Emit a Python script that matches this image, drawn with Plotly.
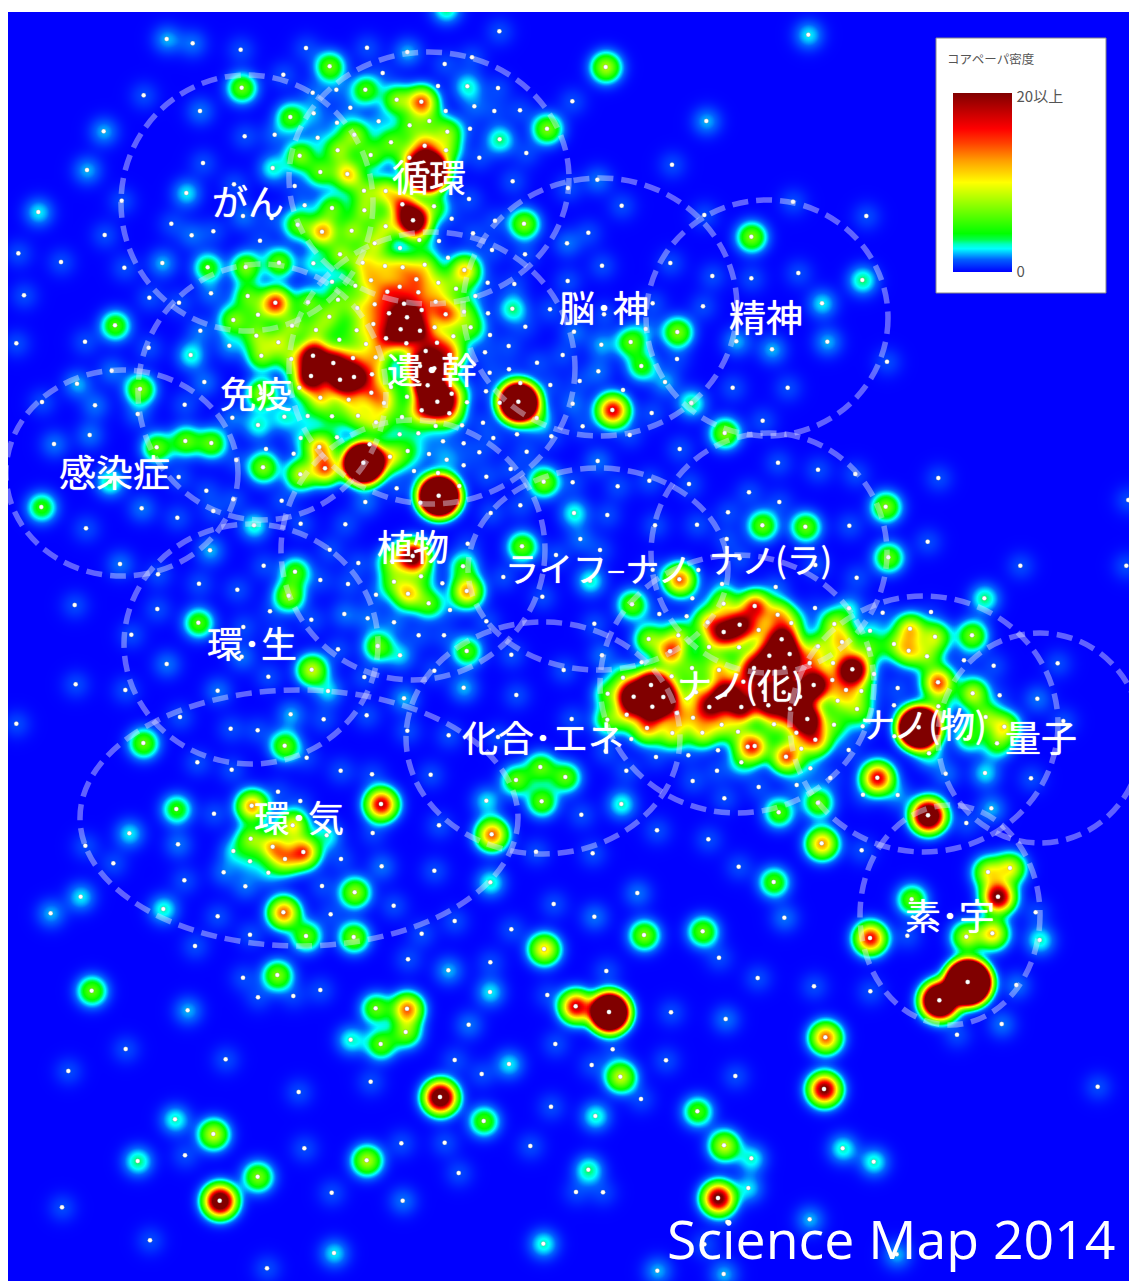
import numpy as np
import plotly.graph_objects as go

# x, y are thirds of a picture pixel from the region's origin.
REGION_ORIGINS = {"nw": (0, 0), "n": (370, 0), "ne": (750, 0), "w": (0, 430), "c": (370, 430), "e": (750, 430),
                  "sw": (0, 851), "s": (370, 851), "se": (750, 851)}

nw_spots = [(500,117,2),(578,130,1.5),(722,149,1),(918,144,1),(1101,143,1),(989,199,5),(725,263,5),(850,224,1),(431,286,1),(938,278,1.5),(1009,269,1.5),(1096,269,4.5),(600,333,1.5),(1051,323,1.5),(941,340,2),(871,351,4.5),(1011,368,2),(1136,364,2),(311,394,2),(734,409,1),(824,404,1.5),(953,413,2),(1063,404,6),(261,510,2),(899,467,5.5),(1013,451,6),(1112,465,5),(609,489,1),(818,504,3),(961,516,5),(1042,522,9),(702,553,1),(884,558,1),(559,579,2.5),(1092,572,6),(115,636,2.5),(365,602,1),(914,616,2),(996,624,5),(1093,631,6),(729,648,1.5),(815,654,1),(514,671,1),(893,674,5),(966,695,10),(1055,692,6),(575,706,1.5),(640,694,1),(314,705,1),(780,722,1),(1124,730,7),(55,760,1),(183,786,1),(1020,763,6),(487,789,2),(373,803,1),(623,802,4),(737,801,5.5),(837,788,5),(940,790,3),(1088,788,8),(72,886,1),(996,845,3),(1066,857,5),(1113,841,9),(448,893,1),(633,880,1.5),(743,888,5),(537,908,1),(826,908,15),(924,907,5),(1014,899,5),(1124,913,10),(1072,924,7),(345,976,4.5),(700,960,5.5),(774,944,5),(988,950,6),(601,992,1.5),(876,977,6),(948,990,6),(1070,991,6),(1120,972,10),(49,1030,1),(255,1025,1),(769,1007,6),(1018,1019,4),(446,1043,1),(688,1037,2),(835,1027,7),(1098,1032,7),(572,1065,3),(784,1067,6),(939,1067,28),(1059,1074,12),(874,1077,7),(1127,1072,9),(1000,1089,27),(335,1112,1.5),(933,1128,28),(1020,1139,30),(1062,1131,30),(1116,1123,11),(613,1146,1.5),(231,1151,2),(420,1167,5.5),(783,1180,6),(898,1163,7),(126,1206,1),(285,1216,1.5),(554,1214,1),(961,1193,9),(1046,1199,9),(1114,1178,12),(413,1242,1.5),(697,1253,1.5),(853,1250,3),(923,1248,3),(996,1249,4),(1074,1247,7),(1128,1267,7),(774,1275,3)]

n_spots = [(228,25,3.5),(388,94,1),(112,156,2),(306,172,1),(224,192,1),(38,219,1),(707,201,6.5),(204,258,1),(292,259,3),(384,264,1),(80,299,6),(154,305,13),(607,304,1),(313,319,1.5),(227,333,1),(373,333,1),(450,331,1),(119,376,5),(178,363,5),(300,386,1),(232,395,6),(531,386,5.5),(389,418,3.5),(1009,363,2),(63,427,5),(164,437,14),(228,451,7),(469,459,1),(118,473,13),(328,473,1),(906,494,1),(172,515,90),(428,544,1),(47,573,8),(682,539,1.5),(594,564,1),(297,597,1),(97,613,17),(192,619,5),(755,617,1),(129,661,32),(245,656,1),(375,662,1),(462,671,5.5),(1003,645,1),(47,679,7),(655,698,1),(309,700,1),(148,720,5),(207,723,1),(591,730,1.5),(90,744,2),(234,773,2),(366,750,1),(465,763,1),(45,798,8),(98,802,9),(164,794,7),(283,810,9),(696,797,1),(901,789,1),(139,838,11),(205,848,7),(353,848,1),(433,852,1),(593,843,1),(89,860,11),(52,875,13),(145,877,11),(258,866,5),(1027,828,1),(316,888,2),(197,905,10),(102,911,20),(427,926,3.5),(540,928,1),(57,940,18),(155,930,15),(227,943,13),(111,952,30),(282,935,6),(354,940,1),(848,910,1),(702,943,1),(999,919,1),(92,988,30),(150,992,22),(194,982,8),(302,982,5),(466,980,1),(612,995,1.5),(922,996,5.5),(827,987,2),(48,1015,18),(250,1009,6),(360,1005,1),(109,1030,14),(201,1028,14),(416,1038,1),(694,1034,2),(782,1026,5),(1099,1024,2),(167,1053,20),(345,1057,1),(578,1065,1),(238,1065,14),(921,1077,1),(501,1088,1),(150,1098,30),(193,1105,30),(417,1108,1),(359,1118,1),(685,1114,1.5),(814,1098,4),(173,1156,40),(63,1161,5),(629,1143,1),(885,1146,2),(541,1155,1),(1088,1163,1),(348,1174,1),(451,1149,10),(111,1190,4),(245,1181,18),(445,1205,90),(389,1208,8),(202,1205,40),(727,1230,17),(759,1170,1),(291,1207,2),(42,1209,9),(608,1211,1.5),(964,1209,3.5),(845,1239,1),(155,1231,18),(238,1240,14),(96,1251,4),(500,1254,6),(339,1268,1),(197,1278,4),(276,1276,1),(638,1279,1)]

ne_spots = [(175,104,2.5),(129,605,1),(349,648,1),(4,710,5.5),(4,835,1),(145,819,1),(337,840,3.5),(216,910,2.5),(232,1025,2),(66,1048,2),(411,1085,1),(113,1163,1),(38,1262,1)]

w_spots = [(162,42,1.5),(269,15,1.5),(470,52,5),(556,33,5),(634,39,5),(709,90,1),(798,57,1.5),(881,71,1.5),(902,24,3),(958,51,10),(1011,22,3),(1109,43,4),(789,112,5.5),(975,115,13),(901,133,7),(1090,98,110),(536,141,1),(330,155,3.5),(619,182,1),(700,208,1),(845,212,1),(124,231,4),(425,235,1.5),(1096,216,1.5),(640,243,1),(532,263,1),(258,295,1),(762,286,3),(902,281,1),(1036,283,1),(630,361,2),(989,359,1),(360,402,1.5),(791,407,1),(1075,399,1),(474,433,1),(885,425,4.5),(597,461,1),(712,479,1),(961,450,1),(1044,462,1),(866,497,6),(1128,494,1.5),(224,525,1),(472,537,1),(810,544,1),(1033,552,1.5),(1103,565,1.5),(595,578,4.5),(730,591,1),(934,569,1),(394,614,1),(833,622,1),(1133,648,5),(1014,658,1),(725,680,1.5),(500,702,1.5),(935,719,7),(805,740,1),(1093,741,1),(227,763,1),(376,780,1),(653,782,1.5),(984,783,2.5),(872,853,2),(1100,856,1),(49,881,1),(540,861,1),(971,868,1),(692,896,1),(773,901,1),(430,939,5),(854,947,5),(920,983,1),(592,997,1),(695,1019,1),(1022,1022,1),(1116,1033,1),(834,1085,1),(901,1113,1),(755,1127,10),(529,1137,4),(642,1151,1),(878,1186,8),(388,1210,2.5),(752,1226,6),(980,1216,3),(1118,1209,1),(256,1247,1),(534,1243,1.5),(818,1250,10),(700,1263,3),(910,1266,14),(1023,1287,1),(855,1287,10)]

c_spots = [(89,13,3),(145,10,3),(219,34,1.5),(281,40,1),(370,24,1),(441,13,1),(544,19,1),(779,15,1),(1064,9,5.5),(60,80,9),(113,63,4),(177,72,1.5),(230,89,2),(328,67,1),(470,65,1),(929,57,1),(683,93,1.5),(132,123,1.5),(281,106,1),(422,117,1),(204,129,3),(349,140,1),(521,155,5.5),(608,157,1),(743,169,1),(838,152,1),(957,162,1),(80,175,1),(268,168,3),(206,197,110),(151,218,6),(1137,187,1),(451,226,1),(362,249,1),(612,249,3),(712,255,1),(1074,247,1),(855,286,1),(981,284,1),(631,327,1.5),(293,341,1),(456,349,5),(690,360,1),(1070,327,1),(128,378,24),(66,394,7),(558,375,1),(1109,385,1),(279,409,4),(400,441,1),(153,439,5),(660,452,3),(848,419,1),(985,420,1),(928,448,12),(72,455,6),(217,460,1),(290,483,10),(114,491,9),(1056,462,2),(176,520,5),(517,500,1),(967,505,1.5),(786,523,5),(1061,521,7),(240,540,1.5),(868,552,1),(950,559,1),(349,574,1),(72,577,1.5),(1013,577,10),(1109,584,24),(673,581,1),(146,616,1),(222,616,1),(836,627,6),(925,616,7),(1061,606,24),(1017,651,6),(1107,652,6),(900,664,13),(290,663,4.5),(90,676,2.5),(424,674,1),(696,676,1.5),(815,697,2),(581,720,1),(193,722,1),(905,739,7),(966,714,5),(1047,720,9),(759,743,6),(1120,755,14),(843,765,40),(281,773,2),(978,787,8),(1065,794,30),(439,795,1),(102,805,2),(791,800,40),(880,801,40),(713,791,5),(847,830,40),(1018,831,22),(1114,831,24),(921,849,12),(770,854,11),(712,869,5),(969,863,9),(605,867,1),(1055,884,8),(831,894,11),(112,902,1),(236,916,1),(907,909,8),(997,908,8),(1104,905,6),(384,921,1),(784,927,2),(707,963,1),(1133,950,12),(858,981,1),(955,976,1),(1044,961,1),(511,1011,5),(1114,997,4),(438,1050,5),(586,1041,5),(769,1022,1),(1041,1022,1),(182,1034,1),(968,1053,1),(515,1114,5),(349,1112,2.5),(1063,1105,1),(754,1122,3),(33,1122,18),(634,1154,1),(207,1186,1),(365,1213,12),(861,1201,1),(1015,1228,1),(498,1265,1),(668,1270,1)]

e_spots = [(84,98,1),(204,119,1),(316,132,1),(565,144,1),(1135,210,1),(407,230,5.5),(88,216,1),(37,286,5),(166,290,5),(298,287,1),(533,335,1),(415,382,5),(811,407,1),(1129,407,1),(196,405,1),(320,443,1),(77,471,1.5),(703,505,3.5),(14,528,16),(195,534,1),(297,535,3),(398,548,1),(543,546,1),(83,554,10),(124,579,8),(253,582,7),(26,600,9),(360,602,3),(480,596,9),(666,616,5.5),(555,620,7),(95,628,30),(276,636,9),(204,649,7),(432,642,6),(476,662,9),(357,657,5),(58,677,30),(119,672,30),(531,679,6),(642,691,1),(179,699,12),(249,699,8),(731,707,1),(923,700,1),(307,718,30),(12,714,24),(103,713,30),(372,732,3),(247,750,10),(564,757,13),(443,774,1),(668,790,7),(749,796,1),(862,806,1.5),(191,765,30),(288,780,10),(334,783,6),(150,800,30),(41,786,26),(101,787,30),(263,812,7),(432,826,1),(55,826,26),(120,836,30),(321,837,6),(565,829,5),(707,861,6),(172,867,30),(940,873,1),(252,884,5),(72,883,7),(338,889,2),(506,892,120),(656,921,4),(763,890,8),(433,919,2),(139,908,11),(196,929,14),(741,940,5),(14,948,13),(154,956,7),(296,960,1),(537,970,4),(108,980,13),(181,1015,2),(587,1031,1.5),(705,1029,2.5),(241,1044,1),(843,1045,1),(382,1043,17),(26,1071,1),(140,1065,1.5),(339,1094,2),(443,1095,2),(204,1118,5),(724,1135,2),(86,1147,4.5),(534,1156,33),(649,1179,1),(215,1240,10),(335,1261,1)]

sw_spots = [(340,37,1),(750,31,3),(805,65,3),(671,64,1.5),(553,88,1),(736,106,1.5),(966,105,1),(1064,124,6),(242,137,2.5),(152,187,2),(490,174,3),(850,184,12),(653,196,1),(992,190,1),(918,255,5),(1061,258,5.5),(750,251,1),(585,285,1),(832,372,5.5),(275,419,5),(729,380,1),(880,435,1),(961,417,1),(774,439,1),(563,478,2),(1127,472,5),(377,594,1),(1052,566,3),(205,660,1),(677,625,1),(1112,692,1),(896,723,1),(525,805,3),(640,849,7),(913,892,1),(555,913,1),(413,930,3.5),(1100,928,6.5),(773,977,5.5),(995,1025,1),(659,1049,27),(186,1069,1),(450,1168,1),(1002,1206,2.5),(801,1252,1)]

s_spots = [(35,46,1.5),(193,59,1),(361,94,3),(1106,47,1),(802,126,1.5),(71,164,1),(551,159,1),(673,197,1.5),(254,210,1),(155,248,1),(424,235,1),(822,252,5.5),(998,241,5),(522,294,8.5),(1047,320,1),(114,325,1),(361,334,1),(235,358,2),(709,360,1),(360,423,2.5),(532,432,1),(617,466,18),(717,483,85),(903,484,1),(1067,504,1.5),(111,473,12),(296,521,1.5),(107,543,6),(32,579,5),(556,579,1),(728,595,1),(888,628,1),(254,627,1),(417,639,2.5),(665,642,1),(335,669,1),(1096,675,1),(751,677,7),(210,738,28),(813,744,1),(543,767,1),(676,795,3),(982,781,4.5),(341,810,4.5),(94,877,1),(224,875,1),(481,885,1),(1062,883,7),(266,966,1),(655,956,3.5),(618,1023,1),(699,1024,1),(1044,1041,22),(1135,1011,2.5),(98,1049,1.5),(1072,1113,1),(1003,1180,1),(520,1178,3),(862,1259,2),(1061,1269,2)]

se_spots = [(780,51,8),(714,63,8),(71,93,4.5),(744,137,22),(485,145,5),(103,200,1.5),(857,184,1),(472,254,1),(360,261,16),(649,257,7),(727,247,9),(869,267,3),(23,381,1),(192,406,1),(361,421,1),(653,393,200),(799,402,1.5),(568,448,60),(755,519,1.5),(621,551,1),(226,559,12),(222,714,21),(1043,707,1),(278,892,3),(371,932,3),(4,922,3),(179,1105,2),(440,1210,2)]

# Field ellipses: label, centre x, centre y, radius x, radius y
field_names = ["がん", "循環", "脳･神", "精神", "遺･幹", "免疫", "感染症", "植物", "ライフ–ナノ", "ナノ(ラ)", "環･生", "ナノ(化)", "ナノ(物)", "量子", "化合･エネ", "環･気", "素･宇"]
field_cx = [247, 429, 600, 767, 432, 262, 122, 413, 598, 769, 251, 737, 924, 1040, 543, 299, 950]
field_cy = [203, 178, 307, 318, 368, 392, 473, 550, 569, 553, 644, 684, 724, 738, 738, 818, 915]
field_rx = [126, 140, 137, 121, 143, 124, 116, 132, 130, 118, 127, 137, 134, 102, 137, 219, 90]
field_ry = [128, 126, 129, 118, 136, 128, 103, 130, 101, 120, 120, 129, 128, 105, 116, 128, 110]
label_x = [248, 429, 604, 766, 432, 256, 114, 413, 598, 770, 252, 740, 923, 1041, 543, 299, 950]
label_y = [200, 176, 306, 316, 368, 392, 471, 545, 567, 558, 642, 683, 722, 736, 736, 816, 914]
label_font_px = [36, 37, 36, 37, 36, 36, 37, 36, 34, 34, 36, 35, 35, 36, 36, 36, 36]

colorbar_ticks = [0, 19.6]
colorbar_labels = ["0", "20以上"]
colorbar_title = "コアペーパ密度"
map_title = "Science Map 2014"

regions = {"nw": nw_spots, "n": n_spots, "ne": ne_spots, "w": w_spots, "c": c_spots, "e": e_spots,
           "sw": sw_spots, "s": s_spots, "se": se_spots}
xs, ys, ds = [], [], []
for key, spots in regions.items():
    ox, oy = REGION_ORIGINS[key]
    for zx, zy, d in spots:
        xs.append(ox + zx / 3)
        ys.append(oy + zy / 3)
        ds.append(d)
xs, ys, ds = np.array(xs), np.array(ys), np.array(ds, dtype=float)

# Mid-range colour readings run low against the spot widths: calibrate them, tapering off towards the reds
calibrated = np.where(ds < 4, ds, np.where(ds <= 10, ds * 1.25, np.where(ds <= 18, 12.5 + (ds - 10) * 0.69, ds)))

# Kernel weights such that the summed Gaussian field reproduces the density read at each dot
SIGMA = 10.0
RIDGE = 0.15
G = np.exp(-((xs[:, None] - xs[None, :]) ** 2 + (ys[:, None] - ys[None, :]) ** 2) / (2 * SIGMA ** 2))
G[np.diag_indices_from(G)] += RIDGE
target = calibrated * (1 + RIDGE)
ws = calibrated.copy()
for _ in range(25):
    for i in range(ws.size):
        ws[i] = max(0.0, ws[i] + (target[i] - G[i] @ ws) / G[i, i])

gx = np.arange(8, 1131, 2.0)
gy = np.arange(12, 1283, 2.0)
z = np.zeros((gy.size, gx.size), dtype=np.float32)
for px, py, w in zip(xs, ys, ws):
    z += (w * np.outer(np.exp(-(gy - py) ** 2 / (2 * SIGMA ** 2)),
                       np.exp(-(gx - px) ** 2 / (2 * SIGMA ** 2)))).astype(np.float32)

colorscale = [[0, "#0000ff"], [0.07, "#0060ff"], [0.13, "#00ffff"], [0.155, "#00ffc0"], [0.18, "#00ff50"],
              [0.215, "#00ff00"], [0.5, "#ffff00"], [0.62, "#ffa000"], [0.72, "#ff4000"], [0.8, "#ff0000"], [1, "#800000"]]

W, H, L, T = 1129, 1281, 8, 12
fig = go.Figure()
fig.add_trace(go.Heatmap(
    x=gx, y=gy, z=z, zmin=0, zmax=20, zsmooth="best", colorscale=colorscale, hoverinfo="skip",
    colorbar=dict(x=(953 - L) / (W - L), xanchor="left", y=(H - 272) / (H - T), yanchor="bottom",
                  thicknessmode="pixels", thickness=59, lenmode="pixels", len=179, xpad=0, ypad=0,
                  outlinewidth=0, tickvals=colorbar_ticks, ticktext=colorbar_labels, ticks="outside",
                  ticklen=2, tickcolor="white",
                  tickfont=dict(family="Noto Sans CJK JP", size=15, color="#555555")),
))
fig.add_trace(go.Scatter(
    x=xs, y=ys, mode="markers", hoverinfo="skip", showlegend=False,
    marker=dict(size=4.5, color="white", line=dict(width=0.5, color="rgba(130,130,130,0.6)")),
))

shapes = []
for cx, cy, rx, ry in zip(field_cx, field_cy, field_rx, field_ry):
    shapes.append(dict(type="circle", xref="x", yref="y", x0=cx - rx, x1=cx + rx, y0=cy - ry, y1=cy + ry,
                       layer="above", opacity=0.42, line=dict(color="#e8e8ff", width=5.5, dash="16px,8px")))
shapes.append(dict(type="rect", xref="x", yref="y", x0=936, x1=1106, y0=38, y1=293, layer="above",
                   fillcolor="white", line=dict(color="#888888", width=1)))

annotations = [dict(x=lx, y=ly, xref="x", yref="y", text=t, showarrow=False,
                    font=dict(family="Noto Sans CJK JP", size=fs, color="white", shadow="0 0 1px white"))
               for t, lx, ly, fs in zip(field_names, label_x, label_y, label_font_px)]
annotations.append(dict(x=990, y=58, xref="x", yref="y", text=colorbar_title, showarrow=False,
                        font=dict(family="Noto Sans CJK JP", size=12.5, color="#555555")))
annotations.append(dict(x=891, y=1238, xref="x", yref="y", text=map_title, showarrow=False,
                        font=dict(family="Open Sans", size=53.6, color="white")))

fig.update_layout(
    width=W, height=H, margin=dict(l=L, r=0, t=T, b=0), paper_bgcolor="white", plot_bgcolor="#0000ff",
    showlegend=False, shapes=shapes, annotations=annotations,
    xaxis=dict(range=[L, W], visible=False, fixedrange=True),
    yaxis=dict(range=[H, T], visible=False, fixedrange=True),
)
fig.write_html("out.html", post_script="document.body.style.margin='0';", config={"displayModeBar": False})
